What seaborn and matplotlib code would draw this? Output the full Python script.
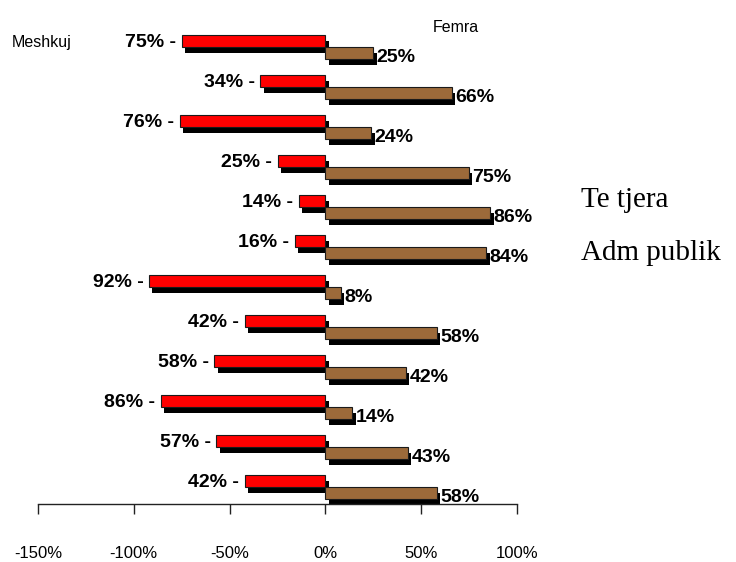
import pandas as pd
import matplotlib.pyplot as plt
import matplotlib.patheffects as pe
import seaborn as sns

# Te dhenat (perqindje sipas gjinise)
kategorite = [str(i) for i in range(12)]
meshkuj = [75, 34, 76, 25, 14, 16, 92, 42, 58, 86, 57, 42]
femra = [25, 66, 24, 75, 86, 84, 8, 58, 42, 14, 43, 58]
tick_vlerat = [-150, -100, -50, 0, 50, 100]
tick_etiketat = ["-150%", "-100%", "-50%", "0%", "50%", "100%"]

sns.set_theme(style="white")
plt.rcParams['font.family'] = ['Liberation Sans', 'DejaVu Sans']

df = pd.DataFrame({
    'kategoria': kategorite * 2,
    'vlera': [-v for v in meshkuj] + femra,
    'gjinia': ['Meshkuj'] * len(meshkuj) + ['Femra'] * len(femra),
})

fig = plt.figure(figsize=(7.36, 5.62), dpi=100)
ax = fig.add_axes([38 / 736, 0.1032, 479 / 736, 0.8790])

sns.barplot(data=df, y='kategoria', x='vlera', hue='gjinia', orient='h',
            palette=['#ff0000', '#9c6a3a'], width=0.6, dodge=True,
            edgecolor='#1a1a1a', linewidth=0.8, saturation=1,
            legend=False, ax=ax)

# hija e zeze poshte shiritave
hije = [pe.SimplePatchShadow(offset=(2.4, -4.3), shadow_rgbFace='black', alpha=1), pe.Normal()]
for cont in ax.containers:
    for p in cont.patches:
        p.set_path_effects(hije)

# etiketat e meshkujve
for p, v in zip(ax.containers[0].patches, meshkuj):
    y = p.get_y() + p.get_height() / 2
    x = min(p.get_x(), p.get_x() + p.get_width())
    ax.annotate(f"{v}% -", xy=(x, y), xytext=(-4, -1), textcoords='offset points',
                ha='right', va='center', fontsize=14, fontweight='bold', color='black')

# etiketat e femrave
for p, v in zip(ax.containers[1].patches, femra):
    y = p.get_y() + p.get_height() / 2
    x = max(p.get_x(), p.get_x() + p.get_width())
    ax.annotate(f"{v}%", xy=(x, y), xytext=(2.5, -3.5), textcoords='offset points',
                ha='left', va='center', fontsize=14, fontweight='bold', color='black')

ax.set_xlim(-150, 100)
ax.set_ylim(11.425, -0.925)
ax.set_xticks(tick_vlerat)
ax.set_xticklabels(tick_etiketat, fontsize=12)
ax.set_yticks([])
ax.set_xlabel('')
ax.set_ylabel('')
ax.tick_params(axis='x', direction='out', length=7, width=1, color='#222222', pad=23,
               bottom=True, labelcolor='black')
for s in ['top', 'right', 'left']:
    ax.spines[s].set_visible(False)
ax.spines['bottom'].set_color('#222222')
ax.spines['bottom'].set_linewidth(1)

fig.text(12 / 736, 1 - 43 / 562, "Meshkuj", fontsize=11.5, va='center', ha='left', color='black')
fig.text(433 / 736, 1 - 28 / 562, "Femra", fontsize=11.5, va='center', ha='left', color='black')
fig.text(581 / 736, 1 - 207 / 562, "Te tjera", fontsize=21, va='baseline', ha='left',
         family=['Liberation Serif', 'DejaVu Serif'], color='black')
fig.text(581 / 736, 1 - 260 / 562, "Adm publik", fontsize=21, va='baseline', ha='left',
         family=['Liberation Serif', 'DejaVu Serif'], color='black')

fig.savefig('out.png', dpi=100)
